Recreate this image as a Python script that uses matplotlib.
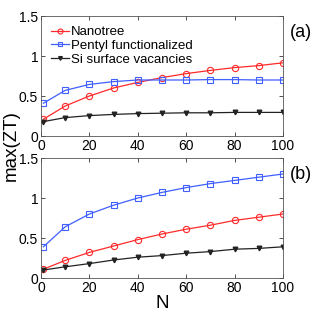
import numpy as np
import matplotlib
matplotlib.use("Agg")
import matplotlib.pyplot as plt

plt.rcParams['font.family'] = ['Liberation Sans', 'DejaVu Sans']

N = [1, 10, 20, 30, 40, 50, 60, 70, 80, 90, 100]

# panel (a)
nanotree_a = [0.21, 0.375, 0.50, 0.60, 0.67, 0.73, 0.78, 0.82, 0.855, 0.88, 0.915]
pentyl_a = [0.41, 0.57, 0.645, 0.68, 0.70, 0.70, 0.70, 0.705, 0.705, 0.70, 0.70]
si_a = [0.18, 0.23, 0.255, 0.27, 0.28, 0.285, 0.29, 0.29, 0.295, 0.295, 0.295]

# panel (b)
nanotree_b = [0.11, 0.22, 0.32, 0.40, 0.48, 0.55, 0.61, 0.66, 0.72, 0.76, 0.80]
pentyl_b = [0.39, 0.64, 0.80, 0.91, 1.00, 1.07, 1.13, 1.18, 1.22, 1.26, 1.30]
si_b = [0.10, 0.14, 0.18, 0.225, 0.26, 0.28, 0.31, 0.33, 0.36, 0.37, 0.39]

labels = ['Nanotree', 'Pentyl functionalized', 'Si surface vacancies']
yticks = [0, 0.5, 1, 1.5]
ytick_labels = ['0', '0.5', '1', '1.5']
xticks = [0, 20, 40, 60, 80, 100]

red = '#ff2a2a'
blue = '#3f5fff'
black = '#222222'

fig = plt.figure(figsize=(3.12, 3.16), dpi=100)
ax1 = fig.add_axes([41 / 312, 1 - 136 / 316, 242 / 312, 120 / 316])
ax2 = fig.add_axes([41 / 312, 1 - 278 / 316, 242 / 312, 120 / 316])


def draw(ax, nt, pe, si):
    ax.plot(N, nt, '-o', color=red, mfc='none', ms=4.5, mew=0.8, lw=0.9, label=labels[0])
    ax.plot(N, pe, '-s', color=blue, mfc='none', ms=4, mew=0.8, lw=0.9, label=labels[1])
    ax.plot(N, si, '-v', color=black, mfc=black, ms=3.3, lw=0.9, label=labels[2])
    ax.set_xlim(0, 100)
    ax.set_ylim(0, 1.5)
    ax.set_xticks(xticks)
    ax.set_yticks(yticks)
    ax.set_yticklabels(ytick_labels)
    ax.tick_params(direction='in', top=True, right=True, labelsize=10, length=3, width=0.6, colors='#333333',
                   labelcolor='black', pad=2)
    for s in ax.spines.values():
        s.set_linewidth(0.6)
        s.set_color('#555555')


draw(ax1, nanotree_a, pentyl_a, si_a)
draw(ax2, nanotree_b, pentyl_b, si_b)

ax1.legend(loc='upper left', frameon=False, fontsize=9.5, handlelength=1.4, handletextpad=0.15,
           labelspacing=0.12, borderpad=0.2, borderaxespad=0.55, markerscale=0.8)

ax1.text(1.03, 0.86, '(a)', transform=ax1.transAxes, fontsize=13, ha='left', va='center')
ax2.text(1.03, 0.86, '(b)', transform=ax2.transAxes, fontsize=13, ha='left', va='center')

fig.text(0.035, 1 - 146 / 316, 'max(ZT)', rotation=90, fontsize=13.5, ha='center', va='center')
ax2.set_xlabel('N', fontsize=13.5, labelpad=0)

fig.savefig('out.png', dpi=100)
